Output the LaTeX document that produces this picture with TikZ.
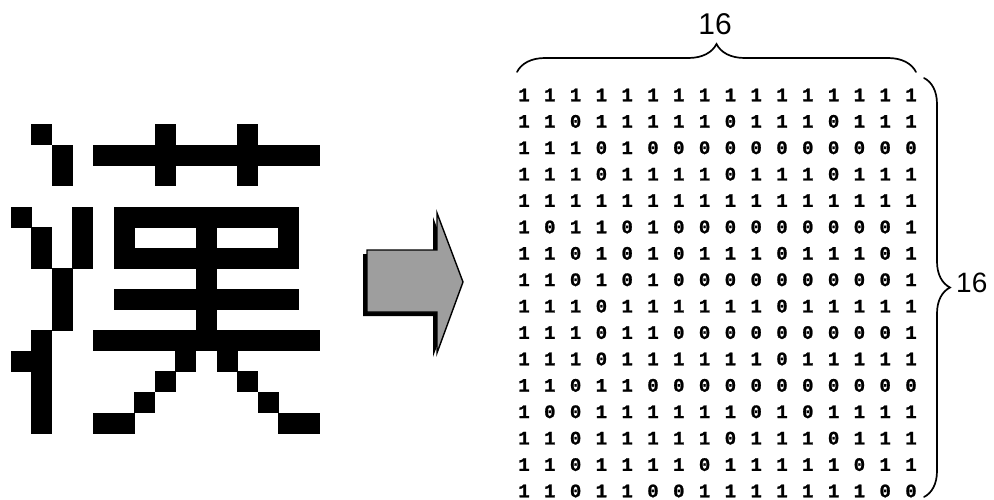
\documentclass[tikz,border=0pt]{standalone}
\usepackage{fontspec}
\usetikzlibrary{decorations.pathreplacing}
\newfontfamily\bitfont{Liberation Mono}[BoldFeatures={FakeBold=1.2}]
\newfontfamily\labelfont{Liberation Sans}
\tikzset{
  digit/.style={font=\bitfont\bfseries\fontsize{19}{19}\selectfont, inner sep=0pt},
  pixel/.style={fill=black},
  countlabel/.style={font=\labelfont\fontsize{30}{30}\selectfont, inner sep=0pt},
  bracestyle/.style={decorate, line width=1.7pt, line cap=round},
  blockarrow/.style={fill=black!38, draw=black, line width=1.4pt, line join=miter},
}
\begin{document}
\begin{tikzpicture}[x=1pt, y=-1pt]
\useasboundingbox (0,0) rectangle (994,500);

% 16x16 bitmap of the character; 0 = black pixel
\foreach \bits [count=\r from 0] in {
  {1,1,1,1,1,1,1,1,1,1,1,1,1,1,1,1},
  {1,1,0,1,1,1,1,1,0,1,1,1,0,1,1,1},
  {1,1,1,0,1,0,0,0,0,0,0,0,0,0,0,0},
  {1,1,1,0,1,1,1,1,0,1,1,1,0,1,1,1},
  {1,1,1,1,1,1,1,1,1,1,1,1,1,1,1,1},
  {1,0,1,1,0,1,0,0,0,0,0,0,0,0,0,1},
  {1,1,0,1,0,1,0,1,1,1,0,1,1,1,0,1},
  {1,1,0,1,0,1,0,0,0,0,0,0,0,0,0,1},
  {1,1,1,0,1,1,1,1,1,1,0,1,1,1,1,1},
  {1,1,1,0,1,1,0,0,0,0,0,0,0,0,0,1},
  {1,1,1,0,1,1,1,1,1,1,0,1,1,1,1,1},
  {1,1,0,1,1,0,0,0,0,0,0,0,0,0,0,0},
  {1,0,0,1,1,1,1,1,1,0,1,0,1,1,1,1},
  {1,1,0,1,1,1,1,1,0,1,1,1,0,1,1,1},
  {1,1,0,1,1,1,1,0,1,1,1,1,1,0,1,1},
  {1,1,0,1,1,0,0,1,1,1,1,1,1,1,0,0}}{
  \foreach \b [count=\c from 0] in \bits {
    \node[digit] (d-\r-\c) at ({524+25.8*\c},{95+26.4*\r}) {\b};
    \ifnum\b=0
      \fill[pixel] ({-10+20.6*\c},{103.6+20.6*\r}) rectangle ++(20.9,20.9);
    \fi
  }
}

% block arrow between the glyph and the code table
\fill[black, shift={(-4,4)}]
  (367,250) -- (437,250) -- (437,213) -- (463,282) -- (437,353) -- (437,312) -- (367,312) -- cycle;
\draw[blockarrow]
  (367,250) -- (437,250) -- (437,213) -- (463,282) -- (437,353) -- (437,312) -- (367,312) -- cycle;

% braces with their counts
\coordinate (topL) at (517,72);
\coordinate (topR) at (916,72);
\coordinate (sideT) at (924,78);
\coordinate (sideB) at (924,497);
\draw[bracestyle, decoration={brace, amplitude=28pt}] (topL) -- (topR);
\draw[bracestyle, decoration={brace, amplitude=26pt}] (sideT) -- (sideB);
\node[countlabel] (cols) at (715,24) {16};
\node[countlabel, anchor=west, font=\labelfont\fontsize{28}{28}\selectfont] (rows) at (956,283) {16};
\end{tikzpicture}
\end{document}
